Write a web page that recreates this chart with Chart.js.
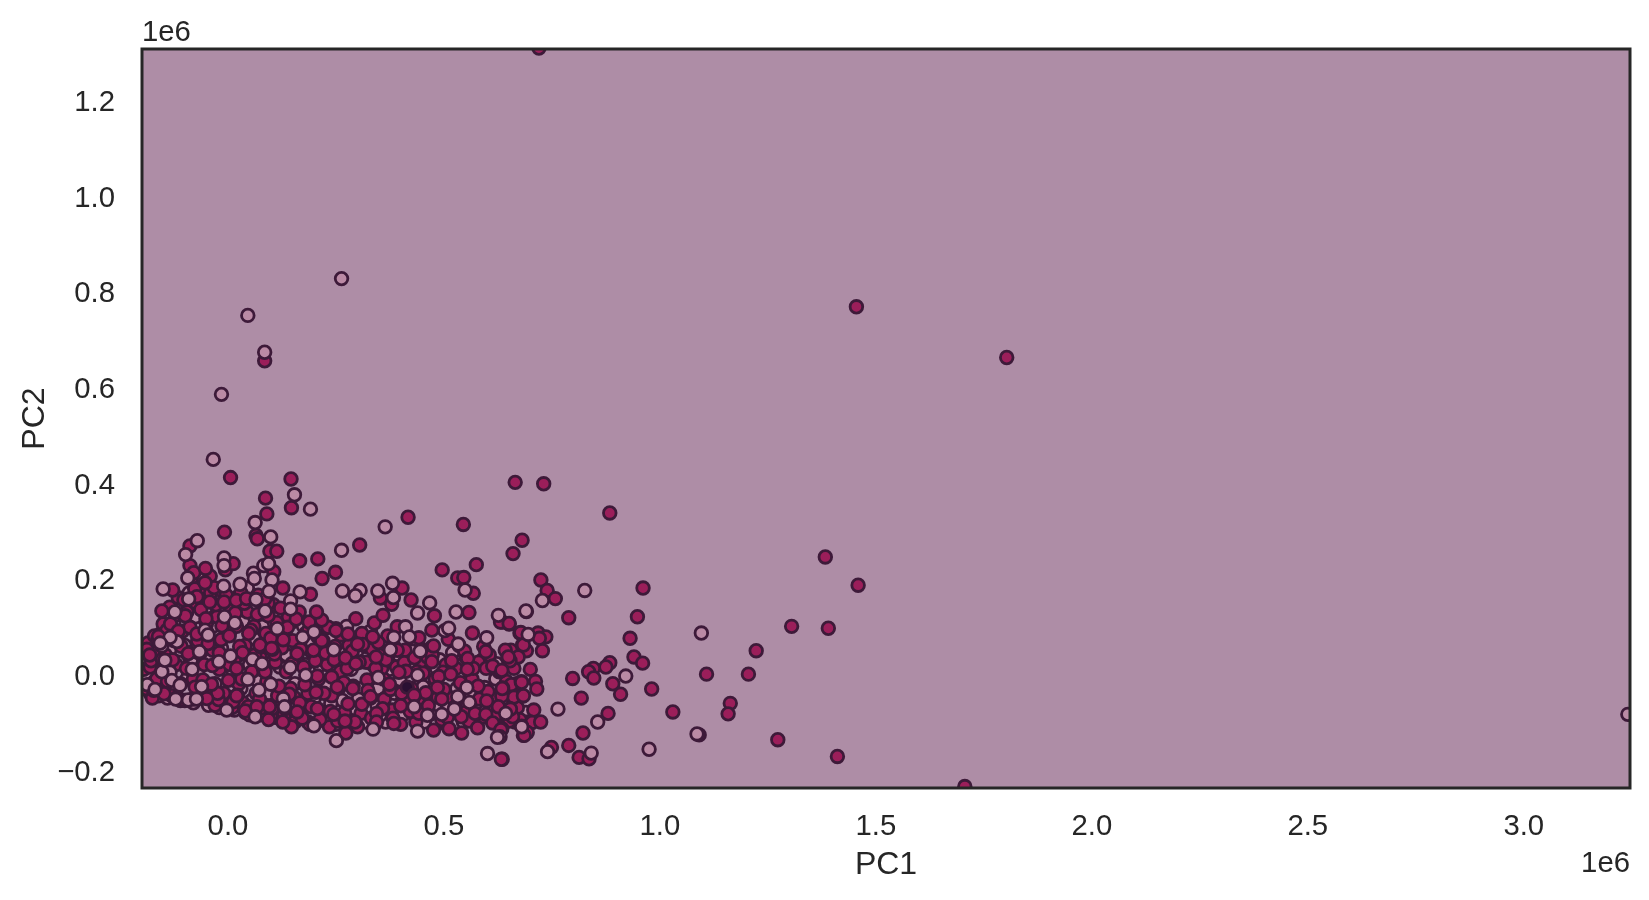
<!DOCTYPE html>
<html><head><meta charset="utf-8">
<style>html,body{margin:0;padding:0;background:#fff}canvas{display:block}</style>
<script src="https://cdn.jsdelivr.net/npm/chart.js@4"></script>
</head><body>
<div style="width:1649px;height:900px"><canvas id="c" width="1649" height="900"></canvas></div>
<script>
// values in units of 1e6: [PC1, PC2]
const baseLight=[[-.195,.045],[-.19,.02],[-.185,-.005],[-.18,-.04],[-.175,.06],[-.17,-.015],[-.165,.035],[-.16,-.045],[-.155,.085],[-.15,-.02],[-.145,.01],[-.14,-.05],[-.135,.05],[-.125,.11],[-.12,-.03],[-.115,.025],[-.11,-.055],[-.105,.14],[-.1,.06],[-.095,-.01],[-.09,.17],[-.085,.03],[-.08,-.06],[-.075,.12],[-.07,.005],[-.065,.2],[-.06,-.035],[-.055,.07],[-.05,.14],[-.045,-.065],[-.04,.03],[-.035,.1],[-.03,-.02],[-.025,.17],[-.02,-.07],[-.015,.055],[-.01,.13],[-.005,-.045],[.005,.09],[.01,.01],[.015,-.075],[.02,.16],[.025,.04],[.03,-.03],[.035,.11],[.04,-.08],[.045,.18],[.05,.02],[.055,-.055],[.06,.075],[.065,.14],[.07,-.015],[.075,-.085],[.08,.1],[.085,.045],[.09,.16],[.095,-.04],[.105,.07],[.11,-.09],[.115,.125],[.12,.015],[.125,-.06],[.13,.09],[.135,.04],[.14,-.095],[.15,.11],[.155,-.02],[.16,.06],[.165,-.08],[.175,.1],[.18,.02],[.185,-.1],[.195,.065],[.2,-.05],[.21,.105],[.22,.03],[.225,-.085],[.23,-.02],[.24,.075],[.25,-.105],[.26,.045],[.265,-.055],[.275,.1],[.285,.01],[.29,-.09],[.3,.05],[.31,-.03],[.32,-.1],[.33,.09],[.335,.02],[.345,-.065],[.355,.06],[.365,-.1],[.375,.01],[.385,-.04],[.395,.04],[.405,-.085],[.42,.02],[.43,-.055],[.44,.06],[.455,-.1],[.465,.01],[.48,-.07],[.49,.03],[.505,-.105],[.52,.045],[.53,-.03],[.545,-.1],[.56,.005],[.575,-.06],[.59,.03],[.61,-.095],[.62,-.01],[.64,-.06],[.665,-.1],[.69,-.08],[.212,.018],[.238,-.062],[.268,.072],[.292,-.072],[.318,.058],[.347,-.03],[.372,.042],[.398,-.012],[.427,.048],[.452,-.026],[.483,.012],[.51,-.066],[.537,.018],[.563,-.044],[.594,-.028],[.622,.022],[.655,-.044],[.228,-.1],[.302,-.052],[.352,-.086],[.408,-.064],[.468,-.084]];
const baseDark=[[-.195,.01],[-.19,-.03],[-.185,.065],[-.18,.015],[-.175,-.05],[-.17,.08],[-.165,-.01],[-.16,.05],[-.155,-.035],[-.15,.105],[-.145,.04],[-.14,-.015],[-.135,.14],[-.13,-.045],[-.125,.07],[-.12,.02],[-.115,.16],[-.11,-.02],[-.105,.09],[-.1,-.055],[-.095,.13],[-.09,.045],[-.085,.2],[-.08,-.01],[-.075,.15],[-.07,.07],[-.065,-.05],[-.06,.18],[-.055,.02],[-.05,.105],[-.045,-.03],[-.04,.17],[-.035,.05],[-.03,-.065],[-.025,.12],[-.02,.01],[-.015,.175],[-.01,-.04],[-.005,.08],[.005,.14],[.01,-.07],[.015,.03],[.02,.1],[.025,-.02],[.03,.17],[.035,-.06],[.04,.06],[.045,.13],[.05,-.085],[.055,.005],[.06,.1],[.065,-.04],[.07,.165],[.075,.035],[.08,-.07],[.085,.135],[.09,-.015],[.095,.08],[.1,-.09],[.105,.145],[.11,.025],[.115,-.045],[.12,.1],[.125,.055],[.13,-.085],[.135,.005],[.14,.12],[.145,-.03],[.15,.07],[.155,-.1],[.16,.035],[.165,.13],[.17,-.06],[.175,.015],[.18,.085],[.185,-.04],[.19,-.105],[.195,.045],[.205,.11],[.21,-.01],[.215,-.08],[.22,.07],[.23,.02],[.235,-.11],[.24,-.045],[.25,.095],[.26,.005],[.27,-.08],[.28,.06],[.29,-.025],[.3,-.11],[.31,.085],[.32,.025],[.33,-.05],[.34,-.105],[.35,.04],[.36,-.01],[.37,.08],[.38,-.075],[.39,.015],[.4,-.105],[.41,.05],[.425,-.03],[.435,-.1],[.445,.025],[.455,-.06],[.47,.055],[.48,-.01],[.495,-.095],[.505,.02],[.52,-.05],[.535,.06],[.55,-.08],[.565,-.01],[.58,.025],[.59,-.09],[.605,.04],[.615,-.05],[.625,-.1],[.645,-.015],[.655,.05],[.67,-.07],[.695,-.1],[.7,.01],[.226,.044],[.258,-.028],[.282,.032],[.308,-.082],[.334,.052],[.362,-.052],[.386,.056],[.414,-.05],[.438,.005],[.462,.036],[.474,-.042],[.5,-.032],[.528,.012],[.552,.034],[.572,-.086],[.598,.012],[.612,-.072],[.636,-.084],[.662,.012],[.246,.03],[.276,.012],[.322,-.012],[.356,.012],[.408,.024]];
const midDark=[[-.188,.052],[-.178,.028],[-.172,-.034],[-.163,.071],[-.152,.012],[-.148,-.041],[-.141,.092],[-.128,.03],[-.122,.123],[-.117,-.048],[-.108,.058],[-.102,.155],[-.096,.012],[-.088,.098],[-.081,-.052],[-.077,.178],[-.069,.045],[-.063,.135],[-.058,-.012],[-.047,.085],[-.041,.205],[-.036,.018],[-.028,.145],[-.022,-.053],[-.016,.072],[-.004,.165],[.004,.02],[.012,-.058],[.017,.128],[.027,.058],[.032,-.01],[.038,.148],[.047,-.068],[.053,.092],[.062,.04],[.068,.125],[.073,-.052],[.082,.012],[.088,.085],[.093,.148],[.102,-.072],[.108,.042],[.113,.108],[.118,-.025],[.128,.072],[.133,-.072],[.138,.098],[.148,.022],[.153,-.048],[.158,.115],[.168,.052],[.172,-.092],[.178,-.022],[.187,.092],[.193,-.068],[.202,.028],[.208,.078],[.213,-.095],[.222,-.04],[.232,.098],[.237,-.078],[.248,.058],[.254,-.098],[.262,.082],[.268,-.018],[.278,-.062],[.288,.048],[.294,-.1],[.304,.025],[.312,.062],[.324,-.034],[.332,-.092],[.342,.012],[.348,.066],[.358,-.072],[.366,.03],[.376,-.032],[.382,-.092],[.392,.05],[.402,-.04],[.412,.006],[.422,-.078],[.432,.034],[.442,-.082],[.452,.002],[.464,-.066],[.473,.04],[.486,-.048],[.498,.004],[.508,-.09],[.518,.028],[.526,-.068],[.538,-.018],[.548,.048],[.558,-.098],[.568,.012],[.582,-.052],[.592,.058],[.602,-.036],[.618,-.088],[.628,.005],[.642,.05],[.652,-.098],[.668,-.02],[.676,-.095]];
const topDark=[[.72,1.309],[1.455,.768],[1.803,.662],[.085,.655],[.006,.411],[.146,.408],[.665,.401],[.731,.398],[.087,.368],[.147,.348],[.09,.335],[.417,.328],[.545,.313],[.884,.337],[-.008,.297],[.065,.29],[.068,.283],[.305,.27],[.66,.252],[.681,.28],[1.383,.245],[1.459,.186],[.7245,.197],[.739,.175],[.758,.158],[.961,.18],[.948,.12],[.789,.118],[.931,.075],[1.223,.049],[1.305,.1],[1.39,.096],[.94,.036],[.96,.023],[1.108,0],[1.205,0],[.884,.024],[.875,.015],[.846,.012],[.835,.005],[.847,-.008],[.798,-.009],[.891,-.02],[.909,-.042],[.981,-.031],[.818,-.05],[1.03,-.079],[1.163,-.061],[1.158,-.083],[.88,-.082],[.822,-.123],[1.091,-.127],[1.273,-.137],[1.411,-.172],[.749,-.153],[.789,-.149],[.813,-.174],[.836,-.177],[1.706,-.235],[.635,.109],[.651,.105],[.676,.086],[.718,.086],[.736,.078],[.721,.075],[.682,.061],[.691,.049],[.728,.049],[.672,.036],[.648,.034],[.653,.028],[.632,.008],[.656,-.022],[.679,-.016],[.712,-.015],[.715,-.031],[.636,-.029],[.682,-.046],[.662,-.048],[.634,-.046],[.653,-.072],[.708,-.075],[.659,-.089],[.704,-.101],[.724,-.1],[.693,-.122],[.684,-.128],[.635,-.178],[.634,-.114],[-.088,.268],[-.088,.227],[-.079,.212],[-.052,.221],[-.006,.218],[.012,.231],[.106,.214],[.097,.257],[.113,.257],[.166,.237],[.208,.241],[.218,.2],[.249,.213],[.496,.218],[.575,.229],[.532,.201],[.546,.202],[.568,.169],[.558,.129],[.424,.155],[.403,.18],[.353,.159],[.379,.146],[.191,.167],[.127,.18],[-.032,.181],[-.053,.191],[-.128,.176],[-.072,.162],[-.042,.151],[-.009,.151],[.019,.154],[.043,.158],[.085,.157],[.122,.138],[-.153,.132],[-.099,.122],[-.051,.116],[-.014,.101],[-.133,.105],[-.115,.09],[-.072,.084],[.003,.08],[.048,.085],[.093,.122],[.188,.109],[.217,.113],[.205,.13],[.296,.116],[.339,.107],[.359,.123],[.25,.091],[.278,.084],[.099,.075],[.076,.057],[.103,.052],[-.161,.079],[-.092,.043],[-.02,.045],[.034,.045],[.16,.043],[.198,.05],[.217,.07],[.3,.063],[.335,.078],[.392,.099],[.442,.076],[.476,.059],[.472,.092],[.478,.122],[.51,.073],[.566,.086],[.631,.109],[.651,.106],[.678,.087],[.684,.061],[.649,.036],[.597,.047],[.555,.033],[.554,.01],[.613,.017],[.634,.008],[.472,.026],[.343,.036],[.272,.034],[.296,.022],[.396,.004],[.374,-.021],[.458,-.039],[.488,-.005],[.516,0],[.579,-.025],[.635,-.03],[.68,-.017],[.684,-.045],[.485,-.028],[.495,-.052],[.599,-.056],[.626,-.068],[.654,-.073],[.572,-.082],[.597,-.084],[.54,-.089],[.613,-.102],[.512,-.114],[.541,-.123],[.578,-.112],[.632,-.116],[.686,-.128],[.633,-.178],[.476,-.117],[.273,-.123],[.271,-.098],[.147,-.11],[.127,-.1],[.094,-.095],[.04,-.077],[.022,-.044],[-.024,-.04],[-.038,-.021],[-.152,.031],[.207,-.004],[.24,-.006],[.142,-.042],[.166,-.06],[.204,-.038],[.253,-.027],[.289,-.03],[.207,-.072],[.245,-.084],[.31,-.063],[.344,-.082],[.4,-.066],[.431,-.044],[.384,-.103],[.344,-.1],[.33,-.047],[.16,-.079],[-.181,.04],[-.076,-.027],[-.049,-.051],[.02,.012],[.001,-.013],[.02,-.045],[.086,.005],[.074,.061],[.101,.054],[.096,-.068],[.067,-.068],[-.046,.064]];
const topLight=[[.263,.827],[.046,.75],[.085,.673],[-.015,.585],[3.241,-.084],[.728,.154],[.826,.175],[.691,.131],[1.096,.086],[.921,-.004],[.764,-.073],[.856,-.1],[1.086,-.125],[.975,-.157],[.74,-.162],[.841,-.165],[.695,.083],[.68,-.109],[.643,-.082],[.63,-.131],[-.034,.449],[.154,.375],[.191,.345],[.063,.317],[.099,.287],[-.071,.279],[-.098,.25],[-.009,.243],[-.009,.227],[.059,.211],[.061,.2],[.083,.227],[.094,.231],[.102,.197],[.263,.259],[.364,.308],[.549,.176],[.528,.13],[.467,.149],[.381,.19],[.383,.16],[.347,.174],[.306,.175],[.295,.164],[.265,.174],[.167,.172],[.028,.188],[-.01,.184],[-.093,.201],[-.15,.178],[-.091,.157],[.065,.156],[.095,.173],[.145,.153],[.145,.136],[-.123,.13],[-.008,.12],[.016,.107],[.114,.095],[.086,.132],[.173,.077],[.199,.088],[-.118,.068],[-.134,.077],[-.153,.059],[-.066,.047],[.006,.038],[.057,.031],[.079,.022],[.245,.051],[.384,.077],[.411,.099],[.42,.078],[.439,.128],[.502,.091],[.511,.096],[.533,.063],[.599,.076],[.626,.123],[.69,.132],[.445,.048],[.376,.051],[.439,-.002],[.348,-.007],[.553,-.028],[.532,-.047],[.559,-.059],[.524,-.073],[.495,-.084],[.624,-.132],[.68,-.11],[.601,-.166],[.439,-.119],[.251,-.139],[.199,-.108],[-.003,-.075],[-.092,-.054],[-.121,-.052],[.072,-.033],[.099,-.021],[.046,-.011],[-.083,.01],[-.134,.004],[-.187,-.022],[-.169,-.032],[-.021,.026],[.144,.014],[.18,-.002],[.431,-.068],[.336,-.115],[.462,-.086],[-.153,.005],[-.13,-.013],[-.111,-.023],[-.061,-.026],[-.073,-.052],[.128,-.051],[.131,-.068],[.063,-.089],[-.053,.092],[-.046,.082],[-.157,.065],[-.146,.029]];
const stackedDark=[[.415,-.027]];
const xTicksStep=0.5, yTicksStep=0.2;

const INK='#262626', EDGE='#3d1a39';
const FONT='"Liberation Sans", Arial, sans-serif';
const LIGHT='#bb8aa5', DARK='#9b1e5a';
const pts=a=>a.map(([x,y])=>({x,y}));
const layer=(a,fill,order)=>({data:pts(a),order,backgroundColor:fill,borderColor:EDGE,borderWidth:2.8,pointRadius:6.3,pointHoverRadius:6.3});
const frame={id:'frame',
  beforeDatasetsDraw(c){const a=c.chartArea,g=c.ctx;g.save();g.fillStyle='#ae8da6';g.fillRect(a.left,a.top,a.width,a.height);g.restore();},
  afterDraw(c){const a=c.chartArea,g=c.ctx,ys=c.scales.y;g.save();g.strokeStyle=INK;g.lineWidth=3;g.strokeRect(a.left,a.top,a.width,a.height);
    g.fillStyle=INK;g.font='29.3px '+FONT;g.textBaseline='alphabetic';
    g.textAlign='left';g.fillText('1e6',a.left,41);
    g.textAlign='right';g.fillText('1e6',a.right,872);
    ys.ticks.forEach((t,i)=>g.fillText(t.label,115,ys.getPixelForTick(i)+10.7));
    g.restore();}};
new Chart(document.getElementById('c'),{type:'scatter',
 data:{datasets:[layer(baseLight,LIGHT,5),layer(baseDark,DARK,4),layer(midDark,DARK,3),layer(stackedDark,'#2a1033',2.5),layer(topLight,LIGHT,1),layer(topDark,DARK,2)]},
 plugins:[frame],
 options:{responsive:false,animation:false,events:[],
  layout:{padding:{top:49,right:19,left:0,bottom:0}},
  plugins:{legend:{display:false},tooltip:{enabled:false}},
  scales:{
   x:{type:'linear',min:-.199,max:3.246,grid:{display:false},border:{display:false},
      afterFit(s){s.height=112;},
      ticks:{stepSize:xTicksStep,includeBounds:false,padding:13,maxRotation:0,color:INK,font:{family:FONT,size:29.3},callback:v=>v.toFixed(1)},
      title:{display:true,text:'PC1',color:INK,font:{family:FONT,size:32},padding:{top:0,bottom:16}}},
   y:{type:'linear',min:-.238,max:1.307,grid:{display:false},border:{display:false},
      afterFit(s){s.width=142;},
      ticks:{stepSize:yTicksStep,includeBounds:false,padding:19,color:'rgba(0,0,0,0)',font:{family:FONT,size:29.3},callback:v=>(v<0?'\u2212':'')+Math.abs(v).toFixed(1)},
      title:{display:true,text:'PC2',color:INK,font:{family:FONT,size:32},padding:{top:16,bottom:0}}}
  }}});
</script></body></html>
